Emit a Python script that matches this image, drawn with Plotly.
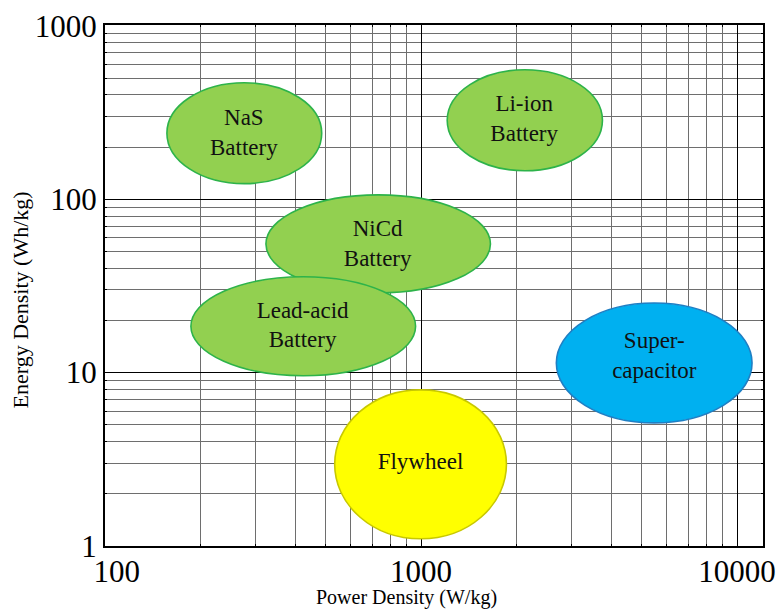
import plotly.graph_objects as go

# Storage technologies (ellipse extents)
names = ["NaS<br>Battery", "Li-ion<br>Battery", "NiCd<br>Battery",
         "Lead-acid<br>Battery", "Super-<br>capacitor", "Flywheel"]
power_min = [157, 1210, 323, 187, 2680, 533]       # W/kg
power_max = [485, 3750, 1658, 961, 11150, 1863]    # W/kg
energy_min = [123, 146, 28.8, 9.6, 5.13, 1.10]     # Wh/kg
energy_max = [470, 558, 106, 35.7, 25.2, 7.95]     # Wh/kg
label_power = [275, 2120, 729, 422, 5470, 996]
label_energy = [236, 285, 54.6, 18.4, 12.3, 3.01]

fill_colors = ["#92D050", "#92D050", "#92D050", "#92D050", "#00B0F0", "#FFFF00"]
line_colors = ["#2DB34A", "#2DB34A", "#2DB34A", "#2DB34A", "#1F7FC4", "#C8C800"]

x_ticks = [100, 1000, 10000]
x_tick_text = ["\u00a0\u00a0\u00a0100", "1000", "10000"]
y_ticks = [1, 10, 100, 1000]
y_tick_text = ["1", "10", "100", "1000"]

x_title = "Power Density (W/kg)"
y_title = "Energy Density (Wh/kg)"

FONT = "Liberation Serif, Times New Roman, serif"

fig = go.Figure()

shapes = []
for i in range(len(names)):
    shapes.append(dict(
        type="circle", xref="x", yref="y", layer="between",
        x0=power_min[i], x1=power_max[i], y0=energy_min[i], y1=energy_max[i],
        fillcolor=fill_colors[i], line=dict(color=line_colors[i], width=1.6),
    ))

fig.add_trace(go.Scatter(
    x=label_power, y=label_energy, text=names, mode="text",
    textposition="middle center",
    textfont=dict(family=FONT, size=23, color="#111111"),
    hoverinfo="skip", showlegend=False,
))

axis_common = dict(
    type="log", automargin=False,
    showline=True, linecolor="black", linewidth=2, mirror="allticks",
    ticks="inside", ticklen=3, tickcolor="black",
    showgrid=True, gridcolor="black", gridwidth=1.4,
    tickfont=dict(family=FONT, size=31, color="black"),
    minor=dict(dtick="D1", showgrid=True, gridcolor="#6e6e6e", gridwidth=1.4,
               ticks="inside", ticklen=2, tickcolor="black"),
    zeroline=False,
)

fig.update_xaxes(**axis_common, range=[2, 4.082], ticklabelstandoff=-3,
                 tickvals=x_ticks, ticktext=x_tick_text)
fig.update_yaxes(**axis_common, range=[0, 3.005],
                 tickvals=y_ticks, ticktext=y_tick_text)

fig.update_layout(
    width=781, height=609,
    margin=dict(l=105, r=18, t=25, b=63),
    paper_bgcolor="white", plot_bgcolor="white",
    shapes=shapes, showlegend=False,
    annotations=[
        dict(text=x_title, xref="paper", yref="paper", x=0.5, y=0,
             xanchor="center", yanchor="middle", xshift=-28, yshift=-51,
             showarrow=False, font=dict(family=FONT, size=20, color="black")),
        dict(text=y_title, xref="paper", yref="paper", x=0, y=0.5,
             xanchor="center", yanchor="middle", xshift=-85, yshift=-15,
             textangle=-90, showarrow=False,
             font=dict(family=FONT, size=22, color="black")),
    ],
)

fig.write_html(
    "out.html",
    config={"displayModeBar": False},
    post_script="document.body.style.margin='0';document.body.style.overflow='hidden';",
)
